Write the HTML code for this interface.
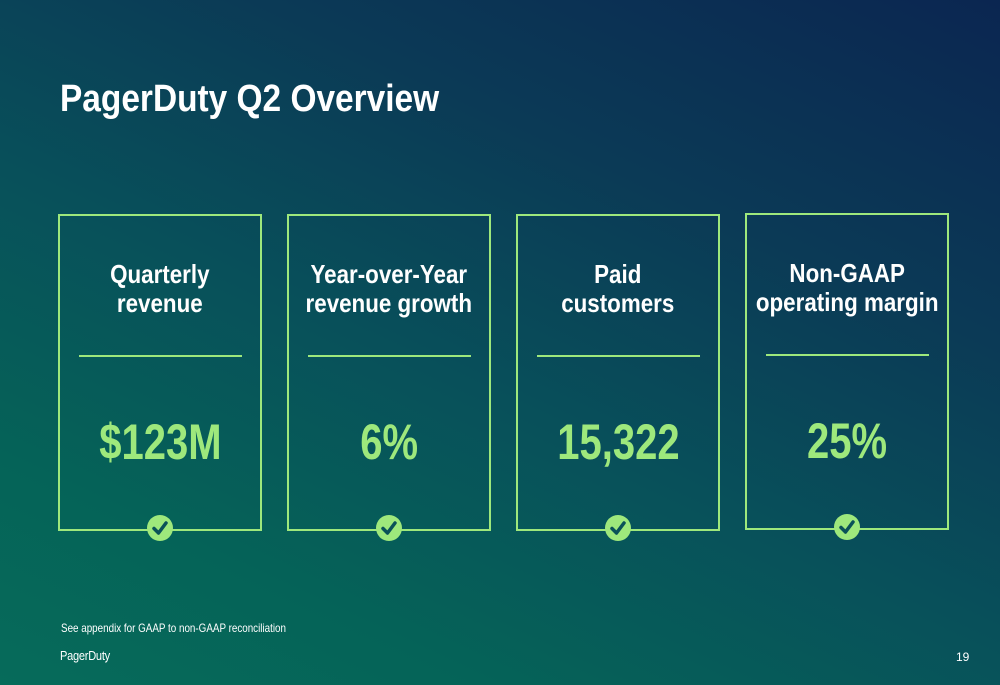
<!DOCTYPE html>
<html><head><meta charset="utf-8"><style>
html,body{margin:0;padding:0}
body{width:1000px;height:685px;position:relative;overflow:hidden;font-family:"Liberation Sans",Arial,sans-serif;
background:linear-gradient(205deg,#0b2651 0%,#0b3a56 30%,#08505a 55%,#056358 80%,#066b5a 100%);}
.t{position:absolute;white-space:nowrap;transform-origin:left top}
.card{position:absolute;top:214px;width:200px;height:313px;border:2px solid #9ee87c;box-sizing:content-box}
.head{position:absolute;left:-20px;width:240px;top:44px;text-align:center;color:#fff;font-weight:bold;font-size:26px;line-height:29px;white-space:nowrap}
.head span{display:inline-block;transform:scaleX(0.86)}
.div{position:absolute;left:19px;width:163px;top:139px;height:2px;background:#9ee87c}
.val{position:absolute;left:0;width:100%;top:199px;text-align:center;color:#9ee87c;font-weight:bold;font-size:50px;line-height:54px}
.val span{display:inline-block;transform:scaleX(0.8)}
.chk{position:absolute;left:87px;top:299px;width:26px;height:26px;border-radius:50%;background:#9ee87c}
</style></head><body>
<div class="t" style="left:60px;top:78px;font-size:38px;font-weight:bold;color:#fff;transform:scaleX(0.88)">PagerDuty Q2 Overview</div>

<div class="card" style="left:58px">
<div class="head"><span>Quarterly<br>revenue</span></div>
<div class="div"></div>
<div class="val"><span>$123M</span></div>
<div class="chk"><svg width="26" height="26"><path d="M7 13.5 L11.5 18 L19 8" stroke="#0a5258" stroke-width="3.5" fill="none" stroke-linecap="round" stroke-linejoin="round"/></svg></div>
</div>
<div class="card" style="left:287px">
<div class="head"><span>Year-over-Year<br>revenue growth</span></div>
<div class="div"></div>
<div class="val"><span>6%</span></div>
<div class="chk"><svg width="26" height="26"><path d="M7 13.5 L11.5 18 L19 8" stroke="#0a5258" stroke-width="3.5" fill="none" stroke-linecap="round" stroke-linejoin="round"/></svg></div>
</div>
<div class="card" style="left:516px">
<div class="head"><span>Paid<br>customers</span></div>
<div class="div"></div>
<div class="val"><span>15,322</span></div>
<div class="chk"><svg width="26" height="26"><path d="M7 13.5 L11.5 18 L19 8" stroke="#0a5258" stroke-width="3.5" fill="none" stroke-linecap="round" stroke-linejoin="round"/></svg></div>
</div>
<div class="card" style="left:745px;top:213px">
<div class="head"><span>Non-GAAP<br>operating margin</span></div>
<div class="div"></div>
<div class="val"><span>25%</span></div>
<div class="chk"><svg width="26" height="26"><path d="M7 13.5 L11.5 18 L19 8" stroke="#0a5258" stroke-width="3.5" fill="none" stroke-linecap="round" stroke-linejoin="round"/></svg></div>
</div>

<div class="t" style="left:61px;top:621px;font-size:12px;color:#fff;transform:scaleX(0.82)">See appendix for GAAP to non-GAAP reconciliation</div>
<div class="t" style="left:60px;top:648px;font-size:13px;color:#fff;transform:scaleX(0.85);letter-spacing:-0.3px">PagerDuty</div>
<div class="t" style="left:956px;top:650px;font-size:12px;color:#fff">19</div>
</body></html>
